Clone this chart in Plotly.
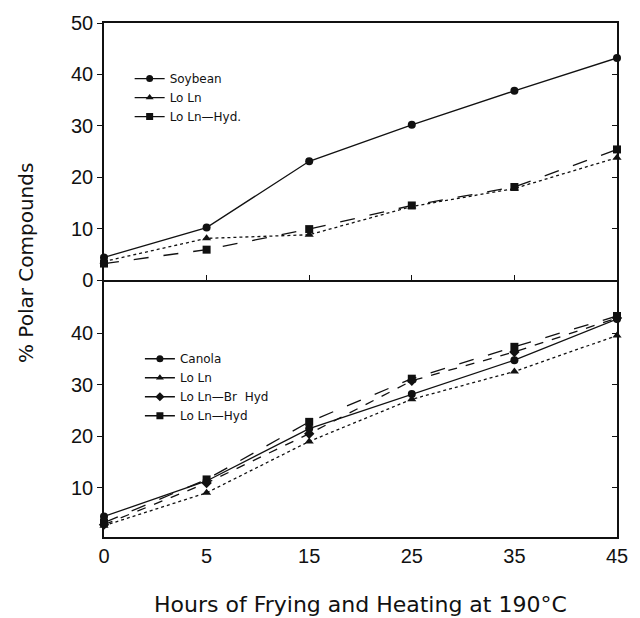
import plotly.graph_objects as go
from plotly.subplots import make_subplots

hours = ["0", "5", "15", "25", "35", "45"]

# Top panel
soybean = [4.4, 10.2, 23.1, 30.2, 36.8, 43.2]
top_lo_ln = [3.6, 8.1, 8.8, 14.3, 17.8, 23.8]
top_lo_ln_hyd = [3.2, 5.9, 9.9, 14.5, 18.1, 25.4]

# Bottom panel
canola = [4.4, 11.3, 21.5, 28.2, 34.8, 42.8]
bot_lo_ln = [2.6, 9.0, 19.0, 27.2, 32.6, 39.6]
bot_lo_ln_br_hyd = [2.8, 10.9, 20.5, 30.8, 36.4, 43.0]
bot_lo_ln_hyd = [3.2, 11.6, 22.8, 31.2, 37.4, 43.4]

top_ticks = [0, 10, 20, 30, 40, 50]
bottom_ticks = [10, 20, 30, 40]

INK = "#111111"
FONT = "Liberation Sans, Arial, sans-serif"
WIDE = "DejaVu Sans, sans-serif"

fig = make_subplots(rows=2, cols=1, shared_xaxes=True, vertical_spacing=0)

def add(y, symbol, dash, name, row, legend):
    fig.add_trace(go.Scatter(
        x=hours, y=y, mode="lines+markers", showlegend=False,
        line=dict(color=INK, width=1.3, dash=dash),
        marker=dict(symbol=symbol, size=8, color=INK),
        cliponaxis=False), row=row, col=1)
    fig.add_trace(go.Scatter(
        x=[None], y=[None], mode="lines+markers", name=name, legend=legend,
        line=dict(color=INK, width=1.3),
        marker=dict(symbol=symbol, size=7, color=INK)), row=row, col=1)

add(soybean, "circle", "solid", "Soybean", 1, "legend")
add(top_lo_ln, "triangle-up", "dot", "Lo Ln", 1, "legend")
add(top_lo_ln_hyd, "square", "longdash", "Lo Ln\u2014Hyd.", 1, "legend")

add(canola, "circle", "solid", "Canola", 2, "legend2")
add(bot_lo_ln, "triangle-up", "dot", "Lo Ln", 2, "legend2")
add(bot_lo_ln_br_hyd, "diamond", "dash", "Lo Ln\u2014Br  Hyd", 2, "legend2")
add(bot_lo_ln_hyd, "square", "longdash", "Lo Ln\u2014Hyd", 2, "legend2")

# empty helper traces so the right-hand inner tick axes get drawn
fig.add_trace(go.Scatter(x=[None], y=[None], xaxis="x", yaxis="y3",
                         showlegend=False, hoverinfo="skip"))
fig.add_trace(go.Scatter(x=[None], y=[None], xaxis="x2", yaxis="y4",
                         showlegend=False, hoverinfo="skip"))

axis_common = dict(showline=True, linecolor=INK, linewidth=1.5,
                   showgrid=False, zeroline=False,
                   tickfont=dict(family=FONT, size=20, color=INK))

fig.update_xaxes(**axis_common, type="category", range=[0, 5],
                 categoryorder="array", categoryarray=hours)
fig.update_xaxes(ticks="inside", ticklen=5, tickcolor=INK, mirror=True, row=1, col=1)
fig.update_xaxes(ticks="", mirror=False, row=2, col=1)

fig.update_yaxes(**axis_common, mirror=True, ticks="outside", ticklen=5, tickcolor=INK)
fig.update_yaxes(range=[0, 50], tickvals=top_ticks, row=1, col=1)
fig.update_yaxes(range=[0.4, 50.4], tickvals=bottom_ticks, row=2, col=1)

right_common = dict(side="right", showline=False, showgrid=False, zeroline=False,
                    ticks="inside", ticklen=5, tickcolor=INK, showticklabels=False)

leg_common = dict(font=dict(family=WIDE, size=12, color=INK),
                  bgcolor="rgba(0,0,0,0)", tracegroupgap=0,
                  xanchor="left", yanchor="top", itemwidth=30)

fig.update_layout(
    width=640, height=618,
    margin=dict(l=104, r=15, t=18, b=81),
    paper_bgcolor="white", plot_bgcolor="white",
    yaxis3=dict(overlaying="y", anchor="x", range=[0, 50],
                tickvals=top_ticks[1:-1], **right_common),
    yaxis4=dict(overlaying="y2", anchor="x2", range=[0.4, 50.4],
                tickvals=bottom_ticks, **right_common),
    legend=dict(x=0.05, y=0.92, **leg_common),
    legend2=dict(x=0.07, y=0.375, **leg_common),
    annotations=[
        dict(text="Hours of Frying and Heating at 190\u00b0C", x=0.5, y=-0.131,
             xref="paper", yref="paper", showarrow=False, yanchor="middle",
             font=dict(family=WIDE, size=22, color=INK)),
        dict(text="% Polar Compounds", x=-0.152, y=0.533, textangle=-90,
             xref="paper", yref="paper", showarrow=False, xanchor="center",
             font=dict(family=WIDE, size=20, color=INK)),
    ],
)

fig.write_html("out.html", config={"displayModeBar": False},
               post_script="document.body.style.margin='0';")
